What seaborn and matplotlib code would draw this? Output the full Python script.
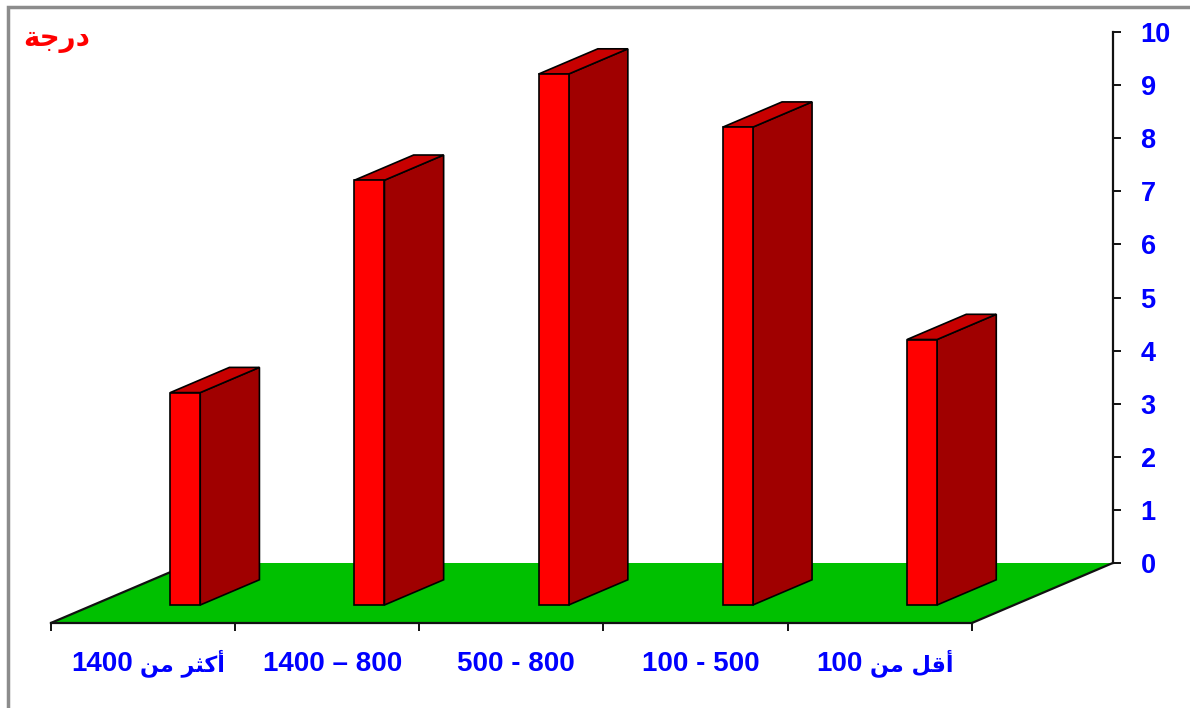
import matplotlib
matplotlib.use("Agg")
import matplotlib.pyplot as plt
from matplotlib.transforms import Affine2D, ScaledTranslation, blended_transform_factory
from matplotlib.patches import Polygon, Rectangle
import seaborn as sns

# Arabic strings are written in presentation forms, already in visual (left-to-right) order
categories = [
    "1400 \uFEE6\uFEE3 \uFEAE\uFE9C\uFEDB\uFE83",   # أكثر من 1400
    "1400 \u2013 800",
    "500 - 800",
    "100 - 500",
    "100 \uFEE6\uFEE3 \uFEDE\uFED7\uFE83",          # أقل من 100
]
values = [4, 8, 10, 9, 5]
y_ticks = list(range(0, 11))
title_text = "\uFE94\uFE9F\uFEAD\uFEA9"            # درجة

sns.set_theme(style="white")
plt.rcParams["font.family"] = ["Liberation Sans", "DejaVu Sans"]

fig = plt.figure(figsize=(11.9, 7.08), dpi=100)
ax = fig.add_axes([0, 0, 1, 1])
ax.set_facecolor("white")

# oblique depth: moving from the front edge of the floor to the back wall
DX, DY = 0.765, 1.13
F_FRONT, F_BACK = 0.30, 0.72
BAR_W = 0.163
n = len(categories)


def proj(x, v, f):
    """Position of point (category x, value v) at depth fraction f."""
    return x + f * DX, v - (1 - f) * DY


# green floor
floor = [proj(-0.5, 0, 0), proj(n - 0.5, 0, 0), proj(n - 0.5, 0, 1), proj(-0.5, 0, 1)]
ax.add_patch(Polygon(floor, closed=True, facecolor="#00C000", edgecolor="none", zorder=1))
for a, b in [(floor[0], floor[3]), (floor[1], floor[2])]:
    ax.plot([a[0], b[0]], [a[1], b[1]], color="#111111", lw=1.6, zorder=2,
            solid_capstyle="round")

# front faces of the columns
sns.barplot(x=categories, y=values, order=categories, width=BAR_W, color="#FF0000",
            saturation=1, edgecolor="black", linewidth=1.2, errorbar=None, ax=ax, zorder=5)
shift = Affine2D().translate(F_FRONT * DX, -(1 - F_FRONT) * DY)
for p in ax.patches[1:]:
    p.set_transform(shift + ax.transData)

# side and top faces
for i, v in enumerate(values):
    r = i + BAR_W / 2
    l = i - BAR_W / 2
    side = [proj(r, 0, F_FRONT), proj(r, 0, F_BACK), proj(r, v, F_BACK), proj(r, v, F_FRONT)]
    top = [proj(l, v, F_FRONT), proj(r, v, F_FRONT), proj(r, v, F_BACK), proj(l, v, F_BACK)]
    ax.add_patch(Polygon(side, closed=True, facecolor="#A00000", edgecolor="black",
                         lw=1.2, zorder=4))
    ax.add_patch(Polygon(top, closed=True, facecolor="#C80000", edgecolor="black",
                         lw=1.2, zorder=4))

# axis limits chosen so the value axis sits on the back wall
ax.set_xlim(-0.776, 5.684)
ax.set_ylim(-2.731, 10.603)
ax.grid(False)

for s in ["top", "left"]:
    ax.spines[s].set_visible(False)

# value axis on the back wall
ax.spines["right"].set_position(("data", n - 0.5 + DX))
ax.spines["right"].set_bounds(0, 10)
ax.spines["right"].set_color("#111111")
ax.spines["right"].set_linewidth(1.6)
ax.yaxis.tick_right()
ax.set_yticks(y_ticks)
ax.set_yticklabels([str(t) for t in y_ticks])
ax.tick_params(axis="y", which="major", direction="out", length=6, width=1.4,
               color="#111111", labelcolor="#0000FF", labelsize=19.5, pad=14, right=True,
               left=False)
for t in ax.get_yticklabels():
    t.set_fontweight("bold")

# category axis along the front edge of the floor
ax.spines["bottom"].set_position(("data", -DY))
ax.spines["bottom"].set_bounds(-0.5, n - 0.5)
ax.spines["bottom"].set_color("#111111")
ax.spines["bottom"].set_linewidth(1.6)
ax.set_xticks([k - 0.5 for k in range(n + 1)])
ax.set_xticklabels([""] * (n + 1))
ax.tick_params(axis="x", which="major", direction="out", length=6, width=1.4,
               color="#111111", bottom=True)
ax.set_xlabel("")
ax.set_ylabel("")


# category labels: Latin runs and Arabic runs set in their own fonts, centred as a whole
def is_arabic(ch):
    return "\u0600" <= ch <= "\u06FF" or "\uFB50" <= ch <= "\uFEFF"


def split_runs(label):
    runs, cur, cur_ar = [], "", None
    for ch in label:
        if ch == " ":
            cur += ch
            continue
        ar = is_arabic(ch)
        if cur_ar is None or ar == cur_ar:
            cur += ch
        else:
            runs.append((cur.strip(), cur_ar))
            cur = ch
        cur_ar = ar
    runs.append((cur.strip(), cur_ar))
    return runs


fig.canvas.draw()
renderer = fig.canvas.get_renderer()
base = blended_transform_factory(ax.transData, fig.transFigure)
LABEL_BASELINE = 1 - 671 / 708
LABEL_NUDGE = 5   # labels sit slightly right of the category centre
RUN_GAP = 7       # pixels between a number and an Arabic word
for i, label in enumerate(categories):
    pieces = []
    for txt, ar in split_runs(label):
        kw = dict(family="DejaVu Sans", fontsize=16) if ar else dict(family="Liberation Sans",
                                                                        fontsize=20)
        t = ax.text(i, LABEL_BASELINE, txt, transform=base, ha="left", va="baseline",
                    color="#0000FF", fontweight="bold", **kw)
        pieces.append(t)
    widths = [t.get_window_extent(renderer).width for t in pieces]
    total = sum(widths) + RUN_GAP * (len(pieces) - 1)
    x0 = LABEL_NUDGE - total / 2
    for t, w in zip(pieces, widths):
        t.set_transform(base + ScaledTranslation(x0 / fig.dpi, 0, fig.dpi_scale_trans))
        x0 += w + RUN_GAP

fig.text(23 / 1190, 1 - 40 / 708, title_text, color="#FF0000", fontsize=20,
         fontweight="bold", ha="left", va="center")

# outer frame
fig.patches.append(Rectangle((8 / 1190, -0.05), 1.2, 1.05 - 7 / 708, transform=fig.transFigure,
                             fill=False, edgecolor="#8C8C8C", lw=2.5, zorder=10))

fig.savefig("out.png", dpi=100)
